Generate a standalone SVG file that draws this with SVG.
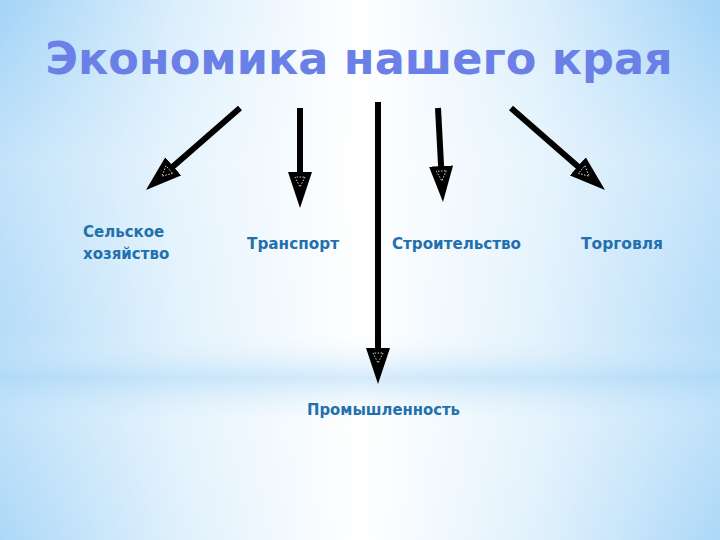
<svg xmlns="http://www.w3.org/2000/svg" width="720" height="540" viewBox="0 0 720 540">
<defs>
<linearGradient id="bgH" x1="0" y1="0" x2="1" y2="0">
<stop offset="0" stop-color="#a3d4f7"/>
<stop offset="0.25" stop-color="#dcefFc"/>
<stop offset="0.5" stop-color="#ffffff"/>
<stop offset="0.75" stop-color="#dcefFc"/>
<stop offset="1" stop-color="#a3d4f7"/>
</linearGradient>
<linearGradient id="bgV" x1="0" y1="0" x2="0" y2="1">
<stop offset="0" stop-color="#ffffff" stop-opacity="0.0"/>
<stop offset="0.3" stop-color="#ffffff" stop-opacity="0.35"/>
<stop offset="0.62" stop-color="#ffffff" stop-opacity="0.2"/>
<stop offset="0.7" stop-color="#b9def8" stop-opacity="0.6"/>
<stop offset="0.78" stop-color="#ffffff" stop-opacity="0.3"/>
<stop offset="1" stop-color="#ffffff" stop-opacity="0.1"/>
</linearGradient>
<marker id="head" viewBox="0 0 36 24" refX="10" refY="12" markerWidth="36" markerHeight="24" markerUnits="userSpaceOnUse" orient="auto">
<path d="M0,0 L36,12 L0,24 Z" fill="#000"/>
<path d="M5,7 L15,12 L5,17 Z" fill="none" stroke="#fff" stroke-width="0.8" stroke-dasharray="1.5,1.5"/>
</marker>
<style>
.title{font-family:"DejaVu Sans",Verdana,sans-serif;font-weight:bold;font-size:44.6px;fill:#6a80e6}
.lbl{font-family:"DejaVu Sans",Verdana,sans-serif;font-weight:bold;font-size:15px;fill:#2270ad}
.arr{stroke:#000;stroke-width:6;fill:none;marker-end:url(#head)}
</style>
</defs>
<rect width="720" height="540" fill="url(#bgH)"/>
<rect width="720" height="540" fill="url(#bgV)"/>
<g id="title"><text class="title" x="359" y="74" text-anchor="middle">Экономика нашего края</text></g>
<g id="connectors">
<line class="arr" x1="240" y1="108" x2="165.6" y2="172.9"/>
<line class="arr" x1="300" y1="108" x2="300" y2="182"/>
<line class="arr" x1="378" y1="102" x2="378" y2="358"/>
<line class="arr" x1="438" y1="108" x2="441.6" y2="176"/>
<line class="arr" x1="511" y1="108" x2="585.4" y2="172.9"/>
</g>
<g id="n-agri"><text class="lbl" x="83" y="237">Сельское</text><text class="lbl" x="83" y="259">хозяйство</text></g>
<g id="n-transport"><text class="lbl" x="247" y="249" textLength="92" lengthAdjust="spacingAndGlyphs">Транспорт</text></g>
<g id="n-build"><text class="lbl" x="392" y="249" textLength="129" lengthAdjust="spacingAndGlyphs">Строительство</text></g>
<g id="n-trade"><text class="lbl" x="581" y="249" textLength="82" lengthAdjust="spacingAndGlyphs">Торговля</text></g>
<g id="n-industry"><text class="lbl" x="307" y="415" textLength="153" lengthAdjust="spacingAndGlyphs">Промышленность</text></g>
</svg>
